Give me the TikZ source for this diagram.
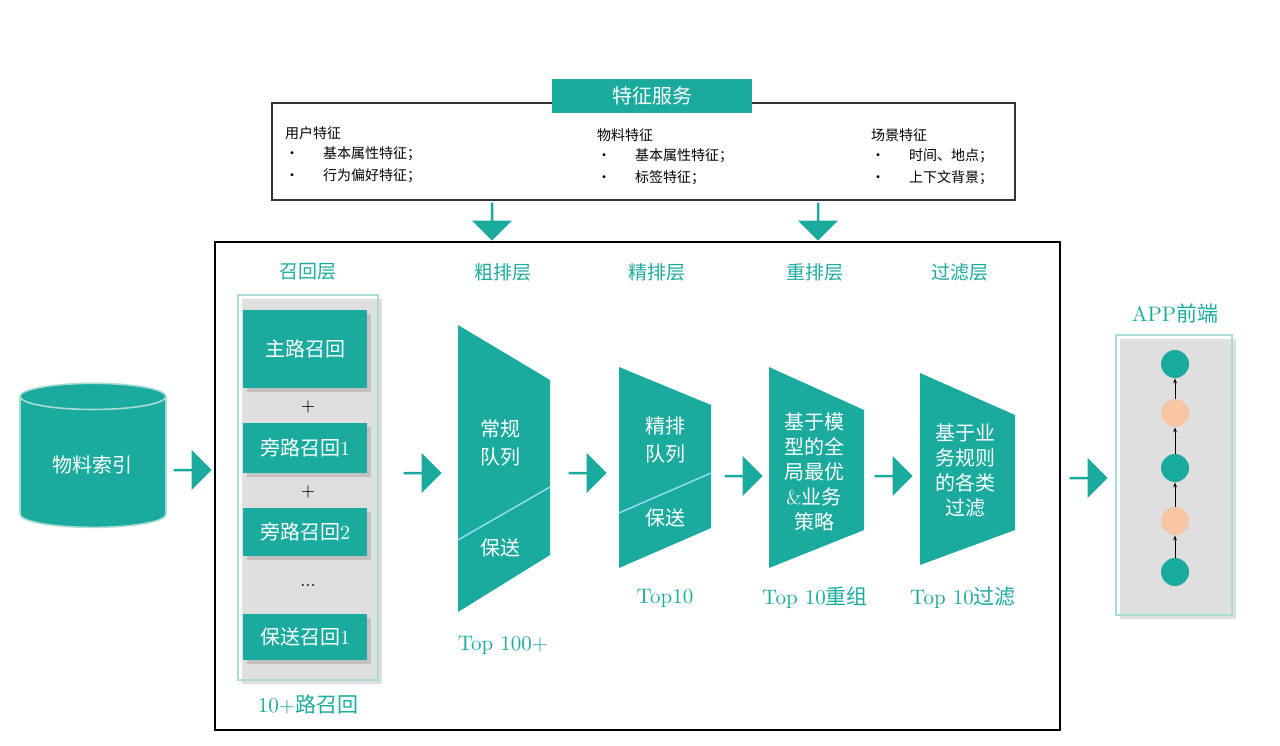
\documentclass[tikz,border=0pt]{standalone}
\usepackage{fontspec}
\newfontfamily\cjk{Noto Sans CJK SC}
\usetikzlibrary{shapes.arrows,shapes.geometric,arrows.meta,shadows}
\definecolor{teal1}{HTML}{1AAA9E}
\definecolor{peach}{HTML}{F7C6A5}
\definecolor{lteal}{HTML}{A8DCD5}
\tikzset{
 barrow/.style={single arrow,fill=teal1,draw=none,minimum width=20pt,single arrow head extend=3pt,minimum height=19pt,inner sep=0pt},
 layer/.style={text=teal1,font=\cjk\fontsize{9.5}{11}\selectfont},
 rbox/.style={fill=teal1,text=white,font=\cjk\fontsize{10}{12}\selectfont,drop shadow={opacity=0.3}},
 feat/.style={anchor=north west,font=\cjk\fontsize{7}{11}\selectfont,align=left},
 trap/.style={fill=teal1,draw=none},
 ttext/.style={text=white,font=\cjk\fontsize{10}{14}\selectfont,align=center},
 toplab/.style={text=teal1,font=\fontsize{10.5}{12}\selectfont},
 dot/.style={circle,minimum size=28pt,inner sep=0pt}
}
\begin{document}
\begin{tikzpicture}[x=0.5pt,y=-0.5pt]
\useasboundingbox (0,0) rectangle (1280,745);
% feature service
\draw[black!80,line width=0.6pt] (272,103) rectangle (1015,200);
\node[fill=teal1,text=white,minimum width=100pt,minimum height=17pt,font=\cjk\fontsize{10}{12}\selectfont] (fs) at (652,96) {特征服务};
\node[feat] (uf) at (278,120) {用户特征\\[-1pt]\textbullet\hspace{12pt}基本属性特征；\\\textbullet\hspace{12pt}行为偏好特征；};
\node[feat] (mf) at (590,122) {物料特征\\[-1pt]\textbullet\hspace{12pt}基本属性特征；\\\textbullet\hspace{12pt}标签特征；};
\node[feat] (sf) at (864,122) {场景特征\\[-1pt]\textbullet\hspace{12pt}时间、地点；\\\textbullet\hspace{12pt}上下文背景；};
\node[barrow,rotate=-90] (d1) at (492,221) {};
\node[barrow,rotate=-90] (d2) at (818,221) {};
% main frame
\draw[line width=1.2pt] (215,242) rectangle (1060,730);
\node[layer] (l1) at (308,272) {召回层};
\node[layer] (l2) at (503,272) {粗排层};
\node[layer] (l3) at (657,272) {精排层};
\node[layer] (l4) at (815,272) {重排层};
\node[layer] (l5) at (960,272) {过滤层};
% recall
\draw[lteal,line width=0.8pt,drop shadow={opacity=0.25}] (238,295) rectangle (378,680);
\node[rbox,minimum width=62pt,minimum height=39pt] (r1) at (305,349) {主路召回};
\node (p1) at (308,407) {\small +};
\node[rbox,minimum width=62pt,minimum height=25pt] (r2) at (305,448) {旁路召回\rmfamily 1};
\node (p2) at (308,492) {\small +};
\node[rbox,minimum width=62pt,minimum height=24pt] (r3) at (305,532) {旁路召回\rmfamily 2};
\node (p3) at (308,586) {\small ...};
\node[rbox,minimum width=62pt,minimum height=23pt] (r4) at (305,637) {保送召回\rmfamily 1};
\node[toplab] (rl) at (308,705) {10+\cjk 路召回};
% cylinder
\node[cylinder,shape border rotate=90,aspect=0.28,fill=teal1,draw=lteal,line width=0.8pt,minimum width=73pt,minimum height=72pt,text=white,font=\cjk\fontsize{10}{12}\selectfont] (db) at (93,465) {物料索引};
\node[barrow] (a0) at (192,470) {};
% trapezoid 1
\fill[trap] (458,325) -- (550,380) -- (550,555) -- (458,612) -- cycle;
\draw[cyan!40!white,line width=0.7pt] (458,540) -- (550,487);
\node[ttext] (t1) at (500,443) {常规\\队列};
\node[ttext] (t1b) at (500,548) {保送};
\node[toplab] (k1) at (503,645) {Top 100+};
\node[barrow] (a1) at (422,473) {};
% trapezoid 2
\fill[trap] (619,367) -- (711,405) -- (711,528) -- (619,568) -- cycle;
\draw[cyan!40!white,line width=0.7pt] (619,513) -- (711,473);
\node[ttext] (t2) at (665,440) {精排\\队列};
\node[ttext] (t2b) at (665,518) {保送};
\node[toplab] (k2) at (665,598) {Top10};
\node[barrow] (a2) at (587,473) {};
% trapezoid 3
\fill[trap] (769,367) -- (864,410) -- (864,530) -- (769,568) -- cycle;
\node[ttext,font=\cjk\fontsize{10}{12.5}\selectfont] (t3) at (814,472) {基于模\\型的全\\局最优\\{\rmfamily\&}业务\\策略};
\node[toplab] (k3) at (815,598) {Top 10\cjk 重组};
\node[barrow] (a3) at (743,476) {};
% trapezoid 4
\fill[trap] (920,373) -- (1015,415) -- (1015,530) -- (920,565) -- cycle;
\node[ttext,font=\cjk\fontsize{10}{12.5}\selectfont] (t4) at (965,470) {基于业\\务规则\\的各类\\过滤};
\node[toplab] (k4) at (963,598) {Top 10\cjk 过滤};
\node[barrow] (a4) at (893,476) {};
\node[barrow] (a5) at (1088,478) {};
% app
\node[toplab,font=\fontsize{10.5}{12}\selectfont] (app) at (1175,313) {APP\cjk 前端};
\draw[lteal,line width=0.8pt,drop shadow={opacity=0.25}] (1116,335) rectangle (1232,615);
\node[dot,fill=teal1,minimum size=14pt] (c1) at (1175,364) {};
\node[dot,fill=peach,minimum size=14pt] (c2) at (1175,413) {};
\node[dot,fill=teal1,minimum size=14pt] (c3) at (1175,468) {};
\node[dot,fill=peach,minimum size=14pt] (c4) at (1175,521) {};
\node[dot,fill=teal1,minimum size=14pt] (c5) at (1175,572) {};
\foreach \a/\b in {c2/c1,c3/c2,c4/c3,c5/c4}
  \draw[-{Stealth[length=2.5pt]},line width=0.5pt] (\a) -- (\b);
\end{tikzpicture}
\end{document}
